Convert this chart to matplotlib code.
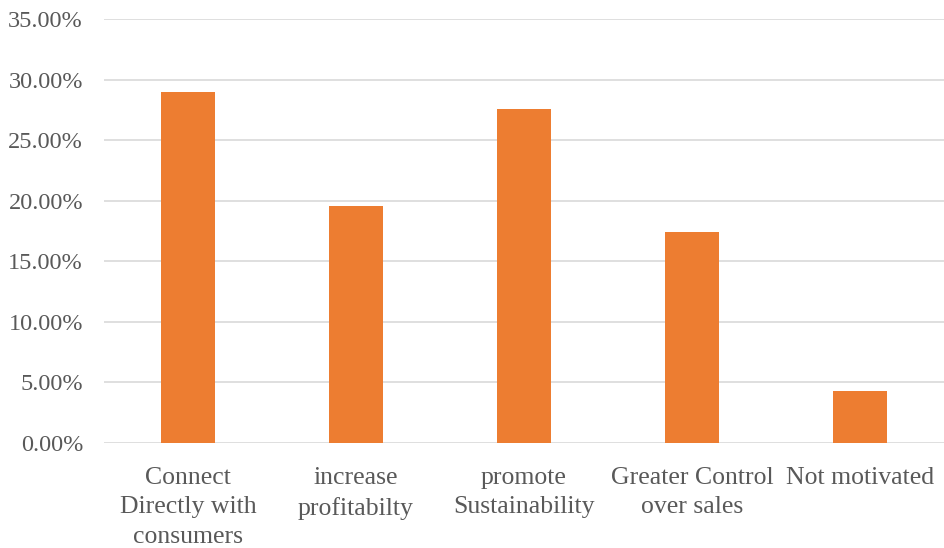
import matplotlib
matplotlib.use('Agg')
import matplotlib.pyplot as plt
from matplotlib.ticker import FuncFormatter
import numpy as np

categories = ['Connect\nDirectly with\nconsumers', 'increase\nprofitabilty',
              'promote\nSustainability', 'Greater Control\nover sales', 'Not motivated']
shares = [28.99, 19.57, 27.54, 17.39, 4.30]   # percent

plt.rcParams['font.family'] = ['Liberation Serif', 'DejaVu Serif']

fig = plt.figure(figsize=(9.44, 5.48), dpi=100)
ax = fig.add_axes([0.110, 0.1916, 0.890, 0.7737])

x = np.arange(len(categories))
ax.bar(x, shares, width=0.32, color='#ED7D31', zorder=3)

ax.set_xlim(-0.5, len(categories) - 0.5)
ax.set_ylim(0, 35)
ax.set_yticks(np.arange(0, 35.1, 5))
ax.yaxis.set_major_formatter(FuncFormatter(lambda v, p: '%.2f%%' % v))
ax.set_xticks(x)
ax.set_xticklabels(categories, linespacing=1.46)

ax.grid(axis='y', color='#D9D9D9', linewidth=1.2, zorder=0)
for s in ax.spines.values():
    s.set_visible(False)
ax.tick_params(axis='both', length=0, colors='#595959')
ax.tick_params(axis='y', pad=15, labelsize=17.5)
ax.tick_params(axis='x', pad=17, labelsize=18.5)

fig.savefig('out.png', dpi=100)
